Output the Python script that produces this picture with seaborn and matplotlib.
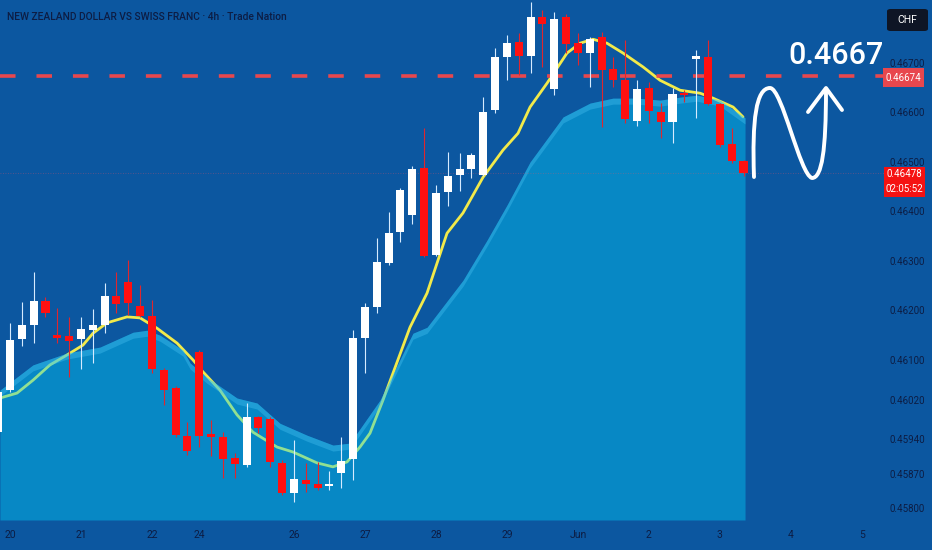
import numpy as np
import matplotlib
matplotlib.use("Agg")
import matplotlib.pyplot as plt
import matplotlib.patches as mpatches
import matplotlib.transforms as mtransforms
from matplotlib.path import Path
import seaborn as sns

# Velas de 4h NZD/CHF
opens = [0.45954, 0.46039, 0.46142, 0.46171, 0.46219, 0.46150, 0.46148, 0.46142, 0.46160, 0.46171,
         0.46229, 0.46257, 0.46209, 0.46189, 0.46080, 0.46043, 0.45946, 0.46116, 0.45950, 0.45944,
         0.45902, 0.45888, 0.45985, 0.45981, 0.45892, 0.45831, 0.45857, 0.45849, 0.45845, 0.45872,
         0.45900, 0.46144, 0.46207, 0.46296, 0.46358, 0.46393, 0.46488, 0.46312, 0.46439, 0.46473,
         0.46486, 0.46473, 0.46605, 0.46712, 0.46742, 0.46714, 0.46793, 0.46647, 0.46793, 0.46740,
         0.46720, 0.46752, 0.46688, 0.46665, 0.46583, 0.46649, 0.46601, 0.46581, 0.46637, 0.46708,
         0.46712, 0.46617, 0.46536, 0.46502]
highs = [0.46049, 0.46175, 0.46217, 0.46278, 0.46227, 0.46205, 0.46187, 0.46187, 0.46203, 0.46255,
         0.46278, 0.46302, 0.46251, 0.46221, 0.46084, 0.46047, 0.45975, 0.46120, 0.45979, 0.45954,
         0.45912, 0.46013, 0.45987, 0.45985, 0.45898, 0.45938, 0.45892, 0.45894, 0.45876, 0.45944,
         0.46160, 0.46215, 0.46346, 0.46399, 0.46447, 0.46492, 0.46568, 0.46453, 0.46520, 0.46518,
         0.46518, 0.46631, 0.46730, 0.46756, 0.46760, 0.46823, 0.46807, 0.46803, 0.46799, 0.46760,
         0.46752, 0.46762, 0.46712, 0.46746, 0.46665, 0.46661, 0.46619, 0.46649, 0.46645, 0.46726,
         0.46746, 0.46619, 0.46568, 0.46504]
lows = [0.45938, 0.46035, 0.46128, 0.46134, 0.46187, 0.46134, 0.46065, 0.46082, 0.46094, 0.46154,
        0.46195, 0.46191, 0.46187, 0.46074, 0.46009, 0.45944, 0.45908, 0.45924, 0.45906, 0.45861,
        0.45861, 0.45884, 0.45952, 0.45884, 0.45827, 0.45813, 0.45833, 0.45837, 0.45837, 0.45841,
        0.45857, 0.46074, 0.46195, 0.46292, 0.46338, 0.46374, 0.46308, 0.46310, 0.46411, 0.46441,
        0.46467, 0.46471, 0.46599, 0.46665, 0.46675, 0.46679, 0.46692, 0.46635, 0.46720, 0.46696,
        0.46651, 0.46570, 0.46651, 0.46579, 0.46572, 0.46579, 0.46548, 0.46538, 0.46621, 0.46589,
        0.46615, 0.46530, 0.46498, 0.46471]
closes = [0.46035, 0.46140, 0.46171, 0.46219, 0.46195, 0.46144, 0.46138, 0.46162, 0.46171, 0.46229,
          0.46213, 0.46215, 0.46189, 0.46082, 0.46039, 0.45948, 0.45916, 0.45946, 0.45944, 0.45900,
          0.45890, 0.45985, 0.45962, 0.45894, 0.45831, 0.45859, 0.45849, 0.45841, 0.45849, 0.45896,
          0.46144, 0.46207, 0.46298, 0.46356, 0.46443, 0.46486, 0.46310, 0.46437, 0.46471, 0.46486,
          0.46514, 0.46601, 0.46712, 0.46740, 0.46714, 0.46793, 0.46778, 0.46789, 0.46738, 0.46720,
          0.46748, 0.46686, 0.46665, 0.46587, 0.46647, 0.46603, 0.46581, 0.46637, 0.46635, 0.46714,
          0.46617, 0.46534, 0.46502, 0.46478]

# media rápida (línea amarilla)
ema_idx = [0.15, 1.59, 2.94, 4.38, 5.82, 7.17, 8.02, 9.20, 10.89, 11.99, 13.43, 15.12, 16.47, 17.31,
           18.75, 20.19, 21.54, 23.57, 24.92, 26.95, 28.30, 29.49, 30.58, 31.43, 32.53, 34.81, 36.25,
           37.94, 39.29, 40.98, 42.67, 43.94, 44.96, 46.39, 48.08, 49.18, 50.28, 51.46, 52.82, 54.51,
           55.95, 57.64, 59.33, 60.42, 62.12, 62.96]
ema_val = [0.46023, 0.46033, 0.46059, 0.46090, 0.46110, 0.46130, 0.46154, 0.46175, 0.46187, 0.46185,
           0.46164, 0.46134, 0.46100, 0.46076, 0.46039, 0.45989, 0.45954, 0.45924, 0.45914, 0.45892,
           0.45884, 0.45894, 0.45924, 0.45952, 0.46019, 0.46166, 0.46235, 0.46356, 0.46397, 0.46469,
           0.46524, 0.46558, 0.46611, 0.46659, 0.46720, 0.46740, 0.46748, 0.46740, 0.46720, 0.46692,
           0.46665, 0.46645, 0.46639, 0.46629, 0.46611, 0.46591]

# media lenta (área)
area_idx = [0.15, 2.94, 5.82, 8.61, 11.40, 12.58, 13.68, 15.62, 16.22, 17.65, 20.19, 21.88, 23.82,
            26.10, 28.30, 29.74, 32.28, 35.06, 36.25, 39.29, 41.32, 43.01, 44.96, 47.75, 50.03,
            51.97, 54.00, 55.95, 57.64, 59.07, 61.02, 63.13]
area_val = [0.46039, 0.46090, 0.46114, 0.46126, 0.46156, 0.46160, 0.46150, 0.46120, 0.46094, 0.46065,
            0.46023, 0.46013, 0.45972, 0.45948, 0.45928, 0.45932, 0.46019, 0.46154, 0.46166, 0.46261,
            0.46342, 0.46413, 0.46500, 0.46591, 0.46619, 0.46629, 0.46629, 0.46625, 0.46631, 0.46635,
            0.46625, 0.46589]

nivel_objetivo = 0.46674
texto_objetivo = "0.4667"
yticks = [0.45800, 0.45870, 0.45940, 0.46020, 0.46100, 0.46200, 0.46300, 0.46400, 0.46500, 0.46600, 0.46700]
xtick_pos = [1, 7, 13, 17, 25, 31, 37, 43, 49, 55, 61, 67, 73]
xtick_labels = ["20", "21", "22", "24", "26", "27", "28", "29", "Jun", "2", "3", "4", "5"]
titulo = "NEW ZEALAND DOLLAR VS SWISS FRANC · 4h · Trade Nation"
temporizador = "02:05:52"

W, H = 932, 550
BG = "#0c57a0"
TXT = "#0d1d44"

sns.set_theme(style="dark", rc={"axes.facecolor": BG, "figure.facecolor": BG})
plt.rcParams["font.family"] = ["Roboto", "DejaVu Sans"]

fig = plt.figure(figsize=(W / 100, H / 100), dpi=100)
ax = fig.add_axes([0, 1 - 520 / H, 885 / W, 520 / H])
y_lo, y_hi = 0.457766, 0.468273
ax.set_xlim(0.155, 74.96)
ax.set_ylim(y_lo, y_hi)
px_y = (y_hi - y_lo) / 520  # un pixel en unidades de precio

# línea amarilla por debajo del área semitransparente
sns.lineplot(x=ema_idx, y=ema_val, ax=ax, color="#f2ea4a", lw=2.0, sort=False, zorder=2)
ax.fill_between(area_idx, area_val, y_lo, color="#00d2ff", alpha=0.4, lw=0, zorder=3)
banda = np.array(area_val) - 6 * px_y
ax.fill_between(area_idx, area_val, banda, color="#4cc6f5", alpha=0.35, lw=0, zorder=3)

# niveles
ax.axhline(nivel_objetivo, color="#e8474e", lw=2.6, dashes=(4.3, 5.8), zorder=4)
ax.axhline(closes[-1], color="#ff4d5a", lw=0.6, ls=(0, (1, 2)), alpha=0.4, zorder=4)

# velas
x = np.arange(len(opens))
o, h, l, c = map(np.array, (opens, highs, lows, closes))
sube = c >= o
col_cuerpo = np.where(sube, "#ffffff", "#ff1010")
col_mecha = np.where(sube, "#d6ebff", "#e0262e")
ax.vlines(x, l, h, colors=col_mecha, lw=0.8, zorder=5)
alto = np.maximum(np.abs(c - o), 2 * px_y)
ax.bar(x, alto, bottom=np.minimum(o, c), width=0.68, color=col_cuerpo, lw=0, zorder=6)

# ejes
ax.yaxis.tick_right()
ax.set_yticks(yticks)
ax.set_yticklabels([f"{v:.5f}" for v in yticks])
ax.set_xticks(xtick_pos)
ax.set_xticklabels(xtick_labels)
ax.tick_params(axis="y", length=0, pad=3, labelsize=7, labelcolor=TXT)
ax.tick_params(axis="x", length=0, pad=7, labelsize=7.5, labelcolor=TXT)
for s in ax.spines.values():
    s.set_visible(False)
ax.grid(False)
ax.set_xlabel("")
ax.set_ylabel("")

# etiquetas de precio a la derecha
trans = mtransforms.blended_transform_factory(fig.transFigure, ax.transData)
fig.add_artist(mpatches.Rectangle((883 / W, nivel_objetivo - 11.5 * px_y), 41 / W, 19 * px_y,
                                  transform=trans, fc="#e8474e", ec="none", zorder=10))
fig.text(903.5 / W, nivel_objetivo - 2 * px_y, f"{nivel_objetivo:.5f}", transform=trans,
         color="white", fontsize=7, ha="center", va="center", zorder=11)
fig.add_artist(mpatches.Rectangle((884 / W, closes[-1] - 24 * px_y), 41 / W, 30 * px_y,
                                  transform=trans, fc="#f51212", ec="none", zorder=10))
fig.text(904.5 / W, closes[-1] - 1 * px_y, f"{closes[-1]:.5f}", transform=trans, color="white",
         fontsize=7, ha="center", va="center", zorder=11)
fig.text(904.5 / W, closes[-1] - 16 * px_y, temporizador, transform=trans, color="white",
         fontsize=7, ha="center", va="center", zorder=11)

fig.add_artist(mpatches.FancyBboxPatch((887 / W, 1 - 31 / H), 41 / W, 22 / H,
                                       boxstyle="round,pad=0,rounding_size=0.004",
                                       transform=fig.transFigure, fc="#0e1525", ec="none", zorder=10))
fig.text(907.5 / W, 1 - 20 / H, "CHF", color="white", fontsize=7.5, ha="center", va="center", zorder=11)

fig.text(7 / W, 1 - 17 / H, titulo, color=TXT, fontsize=7.4, fontweight="medium", ha="left", va="center")
fig.text(836 / W, 1 - 55 / H, texto_objetivo, color="white", fontsize=22, fontweight="medium",
         ha="center", va="center")

# trazo a mano: onda y flecha hacia el objetivo
def fpx(pts):
    return [(px / W, 1 - py / H) for px, py in pts]

onda = Path(fpx([(754, 177), (752, 120), (756, 88), (770, 88),
                 (782, 88), (800, 175), (812, 178),
                 (822, 178), (826, 150), (826, 90)]),
            [Path.MOVETO] + [Path.CURVE4] * 9)
fig.add_artist(mpatches.PathPatch(onda, transform=fig.transFigure, fc="none", ec="white",
                                  lw=2.8, capstyle="round", joinstyle="round", zorder=12))
punta = Path(fpx([(808, 112), (826, 88), (842, 110)]), [Path.MOVETO, Path.LINETO, Path.LINETO])
fig.add_artist(mpatches.PathPatch(punta, transform=fig.transFigure, fc="none", ec="white",
                                  lw=2.8, capstyle="round", joinstyle="round", zorder=12))

fig.savefig("out.png", dpi=100, facecolor=BG)
